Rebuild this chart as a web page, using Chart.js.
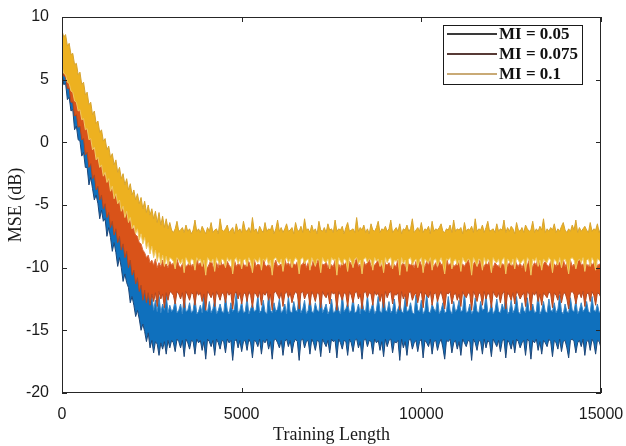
<!DOCTYPE html>
<html lang="en">
<head>
<meta charset="UTF-8">
<title>MSE vs Training Length</title>
<script src="https://cdn.jsdelivr.net/npm/chart.js"></script>
<style>
  html, body { margin: 0; padding: 0; background: #fff; }
  #wrap { width: 626px; height: 446px; }
</style>
</head>
<body>
<div id="wrap"><canvas id="mseChart" width="626" height="446"></canvas></div>
<script>
// MSE curves sampled every 50 iterations: upper and lower edge of each noisy band (dB)
const legendLabels = ['MI = 0.05', 'MI = 0.075', 'MI = 0.1'];
const xTicks = [0, 5000, 10000, 15000];
const yTicks = [-20, -15, -10, -5, 0, 5, 10];

const blueLo = [
  5.5, 4.6, 4.7, 3.4, 3.6, 2.5, 2.6, 1.0, 1.3, 0.2, 0.1,
  -1.1, -0.8, -2.0, -2.0, -3.4, -2.8, -3.7, -4.6, -4.2, -4.9,
  -6.1, -5.4, -6.3, -6.1, -7.5, -6.8, -7.6, -8.7, -8.0, -8.8,
  -9.9, -9.2, -10.0, -11.1, -10.5, -11.2, -11.6, -12.8, -12.3, -13.0,
  -13.9, -13.4, -14.1, -15.0, -14.5, -15.1, -15.9, -15.2, -16.4, -15.8,
  -16.8, -15.9, -16.1, -17.0, -16.0, -16.5, -15.9, -16.9, -15.8, -16.4,
  -15.8,-16.0,-16.7,-15.7,-15.9,-16.4,-15.8,-17.1,-15.7,-16.0,
  -16.5,-15.8,-15.9,-16.9,-15.7,-16.0,-15.8,-16.6,-15.9,-17.3,
  -15.7,-15.9,-16.3,-15.8,-17.0,-15.7,-16.0,-16.5,-15.8,-15.9,
  -16.8,-15.7,-16.0,-15.8,-17.4,-15.9,-15.7,-16.4,-15.8,-16.7,
  -15.9,-15.8,-16.6,-15.7,-16.0,-17.2,-15.8,-15.9,-16.3,-15.7,
  -16.9,-15.8,-16.0,-15.7,-16.5,-15.9,-17.3,-15.8,-15.7,-16.0,
  -16.4,-15.8,-17.0,-15.9,-15.7,-16.3,-15.8,-16.8,-16.0,-15.7,
  -15.9,-17.4,-15.8,-15.7,-16.4,-15.9,-15.8,-16.9,-15.7,-16.0,
  -16.6,-15.8,-15.9,-17.1,-15.7,-16.0,-16.3,-15.8,-16.8,-15.7,
  -15.9,-15.8,-17.2,-15.7,-16.0,-16.5,-15.8,-15.9,-17.0,-15.7,
  -16.0,-16.7,-15.8,-15.7,-16.4,-15.9,-17.3,-15.8,-15.7,-16.3,
  -15.8,-15.9,-16.9,-15.7,-16.0,-15.8,-16.6,-15.9,-17.1,-15.7,
  -16.3,-15.8,-15.7,-16.8,-15.9,-16.0,-15.8,-17.4,-15.7,-16.4,
  -15.9,-17.0,-15.8,-15.7,-16.5,-16.0,-15.8,-16.7,-15.9,-15.7,
  -17.2,-15.8,-16.0,-16.3,-15.7,-16.9,-15.9,-15.8,-16.6,-16.0,
  -15.7,-16.4,-17.3,-15.8,-15.9,-15.7,-16.8,-16.0,-15.8,-16.5,
  -15.9,-17.0,-15.7,-16.0,-16.3,-15.8,-15.9,-17.4,-15.7,-16.0,
  -16.6,-15.8,-15.9,-16.9,-15.7,-16.4,-15.8,-16.0,-17.1,-15.7,
  -16.0,-16.3,-15.8,-16.7,-15.9,-15.7,-17.2,-15.8,-16.0,-16.5,
  -15.8,-16.8,-15.7,-15.9,-16.4,-16.0,-15.8,-17.0,-15.7,-15.9,
  -17.3,-15.8,-16.0,-15.7,-16.6,-15.9,-16.9,-15.8,-16.0,-16.3,
  -15.7,-15.9,-17.1,-15.8,-16.0,-16.5,-15.7,-16.7,-15.9,-15.8,
  -16.4,-17.2,-15.8,-15.7,-15.9,-16.8,-16.0,-15.8,-16.3,-15.7,
  -17.0,-15.9,-15.8,-16.6,-15.7,-16.0,-16.9,-15.8,-15.9,-16.4];

const blueHi = [
  8.5, 7.7, 7.6, 6.7, 6.6, 5.7, 5.5, 4.5, 4.4, 3.3, 3.1,
  2.2, 2.2, 1.1, 1.1, 0.1, 0.3, -0.8, -0.6, -1.7, -1.5,
  -2.5, -2.1, -3.2, -2.9, -3.9, -3.6, -4.7, -4.3, -5.5, -5.1,
  -6.3, -5.9, -7.1, -6.7, -7.9, -7.5, -8.8, -8.2, -9.7, -9.2,
  -10.5, -9.9, -11.2, -10.8, -11.9, -11.3, -12.4, -11.8, -12.9, -12.2,
  -13.4, -12.6, -13.5, -12.3, -13.6, -12.9, -13.4, -12.1, -13.6, -13.0,
  -13.5,-13.3,-12.6,-13.6,-13.4,-12.9,-13.7,-12.2,-13.5,-13.4,
  -12.8,-13.6,-13.4,-12.4,-13.7,-13.5,-13.0,-13.6,-12.1,-13.4,
  -13.5,-12.7,-13.6,-13.3,-12.5,-13.7,-13.4,-12.9,-13.5,-13.6,
  -12.3,-13.4,-13.7,-12.8,-13.5,-13.3,-12.0,-13.6,-13.4,-12.7,
  -13.6,-13.5,-12.4,-13.7,-13.3,-12.9,-13.5,-13.4,-12.2,-13.6,
  -13.4,-12.6,-13.5,-13.7,-12.1,-13.4,-13.6,-12.8,-13.5,-13.3,
  -12.5,-13.6,-13.4,-12.9,-13.7,-12.3,-13.5,-13.6,-12.7,-13.4,
  -13.5,-12.0,-13.6,-13.3,-12.6,-13.7,-13.4,-12.4,-13.5,-13.6,
  -12.8,-13.4,-13.5,-12.2,-13.6,-13.3,-12.9,-13.7,-13.4,-12.5,
  -13.6,-13.5,-12.7,-13.4,-13.7,-12.1,-13.5,-13.3,-12.8,-13.6,
  -13.4,-12.4,-13.6,-13.5,-12.9,-13.7,-12.6,-13.4,-13.5,-12.2,
  -13.6,-13.3,-12.8,-13.7,-13.4,-12.3,-13.5,-13.6,-12.0,-13.4,
  -13.5,-12.7,-13.6,-13.4,-12.5,-13.7,-13.3,-12.9,-13.5,-13.6,
  -12.4,-13.5,-13.4,-12.8,-13.6,-13.7,-12.2,-13.4,-13.5,-12.6,
  -13.7,-13.4,-12.1,-13.5,-13.6,-12.9,-13.3,-13.5,-12.5,-13.7,
  -13.4,-12.8,-13.6,-13.5,-12.3,-13.4,-13.7,-12.7,-13.5,-13.3,
  -12.6,-13.5,-13.4,-12.0,-13.6,-13.5,-12.9,-13.7,-13.4,-12.4,
  -13.5,-13.6,-12.7,-13.4,-13.3,-12.2,-13.6,-13.5,-12.8,-13.7,
  -13.4,-12.5,-13.5,-13.6,-12.9,-13.4,-12.1,-13.7,-13.5,-12.6,
  -13.6,-13.3,-12.3,-13.5,-13.7,-12.8,-13.4,-13.6,-12.4,-13.5,
  -13.4,-12.9,-13.6,-13.5,-12.0,-13.7,-13.4,-12.7,-13.5,-13.6,
  -12.5,-13.4,-13.5,-12.8,-13.6,-13.3,-12.2,-13.5,-13.7,-12.9,
  -13.5,-13.6,-12.4,-13.4,-13.5,-12.6,-13.7,-13.4,-12.8,-13.5,
  -13.3,-12.7,-13.5,-13.6,-12.3,-13.4,-13.5,-12.9,-13.6,-13.4];

const orangeLo = [
  6.0, 5.3, 5.2, 4.3, 4.3, 3.2, 3.2, 2.1, 2.2, 1.2, 1.3,
  0.2, 0.3, -1.0, -0.8, -2.0, -1.7, -2.9, -2.6, -3.8, -3.5,
  -4.6, -4.2, -5.3, -4.9, -6.0, -5.6, -6.8, -6.3, -7.4, -6.9,
  -8.0, -7.5, -8.6, -8.1, -9.2, -8.7, -10.0, -9.4, -10.6, -10.2,
  -11.3, -10.8, -11.9, -11.4, -12.6, -11.8, -12.8, -12.0, -13.0, -12.1,
  -12.7, -12.0, -13.1, -11.9, -12.5, -12.1, -13.2, -12.0, -12.6, -11.9,
  -12.0,-12.2,-12.9,-11.9,-12.1,-12.5,-12.0,-13.2,-11.9,-12.2,
  -12.6,-12.0,-12.1,-13.0,-11.9,-12.2,-12.0,-12.7,-12.1,-13.4,
  -11.9,-12.1,-12.4,-12.0,-13.1,-11.9,-12.2,-12.6,-12.0,-12.1,
  -12.8,-11.9,-12.2,-12.0,-13.3,-12.1,-11.9,-12.5,-12.0,-12.9,
  -12.1,-12.0,-12.7,-11.9,-12.2,-13.2,-12.0,-12.1,-12.4,-11.9,
  -13.0,-12.0,-12.2,-11.9,-12.6,-12.1,-13.4,-12.0,-11.9,-12.2,
  -12.5,-12.0,-13.1,-12.1,-11.9,-12.4,-12.0,-12.8,-12.2,-11.9,
  -12.1,-13.3,-12.0,-11.9,-12.5,-12.1,-12.0,-13.0,-11.9,-12.2,
  -12.7,-12.0,-12.1,-13.2,-11.9,-12.2,-12.4,-12.0,-12.9,-11.9,
  -12.1,-12.0,-13.4,-11.9,-12.2,-12.6,-12.0,-12.1,-13.1,-11.9,
  -12.2,-12.8,-12.0,-11.9,-12.5,-12.1,-13.3,-12.0,-11.9,-12.4,
  -12.0,-12.1,-13.0,-11.9,-12.2,-12.0,-12.7,-12.1,-13.2,-11.9,
  -12.4,-12.0,-11.9,-12.9,-12.1,-12.2,-12.0,-13.4,-11.9,-12.5,
  -12.1,-13.1,-12.0,-11.9,-12.6,-12.2,-12.0,-12.8,-12.1,-11.9,
  -13.2,-12.0,-12.2,-12.4,-11.9,-13.0,-12.1,-12.0,-12.7,-12.2,
  -11.9,-12.5,-13.3,-12.0,-12.1,-11.9,-12.9,-12.2,-12.0,-12.6,
  -12.1,-13.1,-11.9,-12.2,-12.4,-12.0,-12.1,-13.4,-11.9,-12.2,
  -12.7,-12.0,-12.1,-13.0,-11.9,-12.5,-12.0,-12.2,-13.2,-11.9,
  -12.2,-12.4,-12.0,-12.8,-12.1,-11.9,-13.3,-12.0,-12.2,-12.6,
  -12.0,-12.9,-11.9,-12.1,-12.5,-12.2,-12.0,-13.1,-11.9,-12.1,
  -13.4,-12.0,-12.2,-11.9,-12.7,-12.1,-13.0,-12.0,-12.2,-12.4,
  -11.9,-12.1,-13.2,-12.0,-12.2,-12.6,-11.9,-12.8,-12.1,-12.0,
  -12.5,-13.3,-12.0,-11.9,-12.1,-12.9,-12.2,-12.0,-12.4,-11.9,
  -13.1,-12.1,-12.0,-12.7,-11.9,-12.2,-13.0,-12.0,-12.1,-12.4];

const orangeHi = [
  8.0, 7.7, 7.6, 7.0, 6.9, 6.3, 6.1, 5.5, 5.3, 4.7, 4.5,
  3.9, 3.7, 3.1, 2.9, 2.3, 2.1, 1.5, 1.3, 0.7, 0.5,
  -0.1, -0.3, -0.9, -1.1, -1.7, -1.9, -2.5, -2.7, -3.3, -3.4,
  -3.3, -3.5, -4.1, -4.3, -4.9, -5.1, -5.8, -6.0, -6.7, -6.9,
  -7.4, -7.5, -8.0, -8.1, -8.6, -8.8, -9.2, -9.0, -9.6, -9.4,
  -9.8, -9.3, -10.0, -9.6, -9.9, -9.4, -9.8, -9.7, -10.0, -9.5,
  -9.8,-9.6,-9.9,-9.3,-9.8,-10.0,-9.7,-9.5,-9.9,-9.8,
  -9.4,-9.9,-9.7,-10.0,-9.2,-9.8,-9.6,-9.9,-9.5,-9.8,
  -10.0,-9.7,-9.3,-9.9,-9.8,-9.6,-10.0,-9.1,-9.8,-9.7,
  -9.9,-9.5,-9.8,-10.0,-9.6,-9.4,-9.9,-9.7,-9.8,-9.2,
  -9.7,-9.9,-9.6,-9.5,-10.0,-9.8,-9.3,-9.9,-9.7,-9.8,
  -9.6,-9.1,-9.8,-9.9,-9.7,-10.0,-9.5,-9.8,-9.4,-9.9,
  -9.8,-9.7,-10.0,-9.3,-9.8,-9.6,-9.9,-9.2,-9.7,-9.8,
  -9.5,-9.9,-9.8,-9.7,-9.4,-10.0,-9.6,-9.8,-9.9,-9.3,
  -9.8,-9.6,-9.1,-9.9,-9.7,-9.8,-9.5,-10.0,-9.6,-9.8,
  -9.9,-9.4,-9.8,-9.7,-10.0,-9.3,-9.8,-9.6,-9.9,-9.5,
  -9.7,-9.8,-9.6,-9.2,-9.9,-9.7,-10.0,-9.5,-9.8,-9.6,
  -9.3,-9.9,-9.7,-9.8,-9.6,-9.4,-9.9,-9.8,-9.1,-9.7,
  -9.8,-9.6,-10.0,-9.5,-9.8,-9.9,-9.3,-9.7,-9.8,-9.6,
  -9.9,-9.2,-9.7,-9.8,-9.6,-10.0,-9.5,-9.9,-9.4,-9.8,
  -9.7,-9.9,-9.5,-9.8,-9.3,-9.7,-9.9,-9.6,-10.0,-9.4,
  -9.8,-9.6,-9.9,-9.1,-9.8,-9.7,-9.5,-9.9,-9.8,-9.6,
  -9.4,-9.8,-9.7,-9.9,-9.6,-9.3,-9.8,-10.0,-9.7,-9.5,
  -9.9,-9.7,-9.2,-9.8,-9.9,-9.6,-9.8,-9.4,-9.7,-10.0,
  -9.6,-9.8,-9.9,-9.5,-9.7,-9.8,-9.2,-9.9,-9.6,-9.8,
  -9.8,-9.3,-9.7,-9.9,-9.6,-10.0,-9.7,-9.5,-9.8,-9.4,
  -9.7,-9.9,-9.6,-9.8,-9.1,-9.8,-9.9,-9.7,-9.5,-9.8,
  -9.9,-9.5,-9.8,-9.7,-9.9,-9.4,-9.6,-9.8,-9.3,-9.9,
  -9.6,-9.8,-9.4,-9.9,-9.7,-9.8,-9.5,-9.2,-9.8,-9.7,
  -9.8,-9.7,-9.9,-9.5,-9.8,-9.6,-9.3,-9.9,-9.7,-9.8];

const yellowLo = [
  6.0, 5.5, 5.4, 4.8, 4.7, 4.1, 4.0, 3.3, 3.2, 2.5, 2.6,
  1.8, 1.9, 1.0, 1.1, 0.2, 0.3, -0.6, -0.4, -1.4, -1.2,
  -2.0, -1.8, -2.7, -2.4, -3.2, -2.9, -3.9, -3.5, -4.5, -4.1,
  -4.9, -4.6, -5.5, -5.1, -6.0, -5.5, -6.4, -6.0, -6.9, -6.6,
  -7.3, -6.9, -7.8, -7.3, -8.1, -7.6, -8.5, -8.0, -8.9, -8.3,
  -9.2, -8.6, -9.5, -8.8, -9.7, -9.0, -9.9, -9.1, -9.8, -9.2,
  -9.3,-9.5,-10.1,-9.2,-9.4,-9.7,-9.3,-10.4,-9.2,-9.5,
  -9.8,-9.3,-9.4,-10.2,-9.2,-9.5,-9.3,-9.9,-9.4,-10.6,
  -9.2,-9.4,-9.6,-9.3,-10.3,-9.2,-9.5,-9.8,-9.3,-9.4,
  -10.0,-9.2,-9.5,-9.3,-10.5,-9.4,-9.2,-9.7,-9.3,-10.1,
  -9.4,-9.3,-9.9,-9.2,-9.5,-10.4,-9.3,-9.4,-9.6,-9.2,
  -10.2,-9.3,-9.5,-9.2,-9.8,-9.4,-10.6,-9.3,-9.2,-9.5,
  -9.7,-9.3,-10.3,-9.4,-9.2,-9.6,-9.3,-10.0,-9.5,-9.2,
  -9.4,-10.5,-9.3,-9.2,-9.7,-9.4,-9.3,-10.2,-9.2,-9.5,
  -9.9,-9.3,-9.4,-10.4,-9.2,-9.5,-9.6,-9.3,-10.1,-9.2,
  -9.4,-9.3,-10.6,-9.2,-9.5,-9.8,-9.3,-9.4,-10.3,-9.2,
  -9.5,-10.0,-9.3,-9.2,-9.7,-9.4,-10.5,-9.3,-9.2,-9.6,
  -9.3,-9.4,-10.2,-9.2,-9.5,-9.3,-9.9,-9.4,-10.4,-9.2,
  -9.6,-9.3,-9.2,-10.1,-9.4,-9.5,-9.3,-10.6,-9.2,-9.7,
  -9.4,-10.3,-9.3,-9.2,-9.8,-9.5,-9.3,-10.0,-9.4,-9.2,
  -10.4,-9.3,-9.5,-9.6,-9.2,-10.2,-9.4,-9.3,-9.9,-9.5,
  -9.2,-9.7,-10.5,-9.3,-9.4,-9.2,-10.1,-9.5,-9.3,-9.8,
  -9.4,-10.3,-9.2,-9.5,-9.6,-9.3,-9.4,-10.6,-9.2,-9.5,
  -9.9,-9.3,-9.4,-10.2,-9.2,-9.7,-9.3,-9.5,-10.4,-9.2,
  -9.5,-9.6,-9.3,-10.0,-9.4,-9.2,-10.5,-9.3,-9.5,-9.8,
  -9.3,-10.1,-9.2,-9.4,-9.7,-9.5,-9.3,-10.3,-9.2,-9.4,
  -10.6,-9.3,-9.5,-9.2,-9.9,-9.4,-10.2,-9.3,-9.5,-9.6,
  -9.2,-9.4,-10.4,-9.3,-9.5,-9.8,-9.2,-10.0,-9.4,-9.3,
  -9.7,-10.5,-9.3,-9.2,-9.4,-10.1,-9.5,-9.3,-9.6,-9.2,
  -10.3,-9.4,-9.3,-9.9,-9.2,-9.5,-10.2,-9.3,-9.4,-9.6];

const yellowHi = [
  8.9, 8.4, 8.6, 7.7, 7.9, 7.0, 7.1, 6.2, 6.3, 5.4, 5.6,
  4.6, 4.8, 3.8, 4.0, 3.0, 3.2, 2.2, 2.5, 1.5, 1.7,
  0.8, 1.0, 0.1, 0.3, -0.6, -0.3, -1.2, -0.9, -1.8, -1.4,
  -2.4, -2.0, -2.9, -2.5, -3.4, -2.9, -3.8, -3.3, -4.2, -3.8,
  -4.6, -4.1, -4.9, -4.4, -5.3, -4.7, -5.6, -5.0, -5.8, -5.3,
  -6.1, -5.5, -6.4, -5.6, -6.6, -5.9, -6.8, -6.1, -6.9, -6.4,
  -7.0,-7.2,-6.9,-6.3,-7.1,-7.0,-6.8,-7.2,-6.6,-7.1,
  -6.9,-7.3,-7.0,-6.2,-7.1,-6.9,-7.2,-6.7,-7.0,-7.3,
  -6.8,-7.1,-6.4,-7.2,-7.0,-6.9,-7.3,-6.1,-7.0,-7.1,
  -6.9,-6.6,-7.2,-7.0,-6.8,-7.3,-6.5,-7.1,-6.9,-7.2,
  -6.3,-7.0,-7.1,-6.8,-7.2,-6.0,-7.1,-6.9,-7.3,-6.7,
  -7.0,-7.2,-6.4,-7.1,-6.9,-7.0,-6.6,-7.3,-6.9,-6.2,
  -7.1,-6.8,-7.2,-6.9,-6.5,-7.1,-7.0,-6.8,-7.3,-6.4,
  -7.0,-7.1,-6.7,-7.2,-6.1,-7.0,-6.9,-7.2,-6.6,-7.1,
  -6.9,-7.3,-6.3,-7.0,-7.1,-6.8,-7.2,-6.5,-7.0,-6.9,
  -7.2,-6.2,-7.1,-6.9,-7.0,-6.7,-7.3,-6.8,-6.4,-7.1,
  -7.0,-6.9,-7.2,-6.0,-7.1,-6.8,-7.0,-6.6,-7.2,-6.9,
  -7.3,-6.5,-7.0,-7.1,-6.8,-6.3,-7.2,-6.9,-7.0,-6.7,
  -7.1,-6.9,-6.2,-7.2,-7.0,-6.8,-7.1,-6.5,-7.3,-6.9,
  -7.0,-6.6,-7.1,-6.9,-6.1,-7.2,-7.0,-6.8,-7.1,-6.4,
  -7.2,-6.9,-7.0,-6.7,-7.3,-6.3,-7.1,-6.9,-7.0,-6.8,
  -6.5,-7.1,-7.2,-6.9,-7.0,-6.6,-7.2,-6.2,-7.1,-6.9,
  -7.0,-6.8,-7.3,-6.4,-7.1,-6.9,-7.0,-6.7,-7.2,-6.1,
  -7.1,-6.9,-7.0,-6.6,-7.2,-6.8,-6.3,-7.1,-7.0,-6.9,
  -7.2,-6.5,-7.1,-6.9,-7.0,-6.2,-7.2,-6.8,-7.1,-6.7,
  -6.9,-7.3,-6.4,-7.0,-7.1,-6.8,-7.2,-6.6,-6.9,-7.1,
  -7.0,-6.3,-7.2,-6.9,-7.1,-6.7,-7.0,-6.1,-7.2,-6.9,
  -7.1,-6.8,-7.0,-6.5,-7.2,-6.9,-7.1,-6.7,-6.4,-7.0,
  -7.2,-6.9,-7.1,-6.6,-7.0,-6.2,-7.2,-6.8,-7.1,-6.9,
  -6.7,-7.0,-7.2,-6.4,-7.1,-6.9,-7.0,-6.5,-7.2,-6.8];

// training length of each sample (one every 50 iterations)
const trainLen = blueLo.map((_, i) => i * 50);
const pts = arr => arr.map((v, i) => ({ x: trainLen[i], y: v }));

function band(lo, hi, fill, edgeLo, edgeHi, order) {
  return [
    { data: pts(lo), borderColor: edgeLo, borderWidth: 1, fill: false, order: order },
    { data: pts(hi), borderColor: edgeHi, borderWidth: 1, backgroundColor: fill, fill: '-1', order: order }
  ];
}

const datasets = [
  ...band(blueLo, blueHi, '#0f70bd', '#1d4678', '#3a86c6', 3),
  ...band(orangeLo, orangeHi, '#d95319', '#b5471e', '#d96a38', 2),
  ...band(yellowLo, yellowHi, '#edb120', '#efc865', '#d6a32f', 1)
];

const legendColors = ['#3a3a3a', '#573a36', '#c9aa76'];
const axisColor = '#262626';

// box, inward ticks on all four sides, legend box (MATLAB look)
const framePlugin = {
  id: 'frame',
  afterDatasetsDraw(chart) {
    const { ctx, chartArea: a, scales: { x, y } } = chart;
    ctx.save();
    ctx.strokeStyle = axisColor;
    ctx.lineWidth = 1;
    ctx.strokeRect(a.left + 0.5, a.top + 0.5, a.right - a.left - 1, a.bottom - a.top - 1);
    ctx.beginPath();
    xTicks.forEach(v => {
      const px = Math.round(x.getPixelForValue(v)) + 0.5;
      ctx.moveTo(px, a.bottom); ctx.lineTo(px, a.bottom - 5);
      ctx.moveTo(px, a.top); ctx.lineTo(px, a.top + 5);
    });
    yTicks.forEach(v => {
      const py = Math.round(y.getPixelForValue(v)) + 0.5;
      ctx.moveTo(a.left, py); ctx.lineTo(a.left + 5, py);
      ctx.moveTo(a.right, py); ctx.lineTo(a.right - 5, py);
    });
    ctx.stroke();

    // legend
    const bx = a.right - 158, by = a.top + 8, bw = 139, bh = 59;
    ctx.fillStyle = '#fff';
    ctx.fillRect(bx, by, bw, bh);
    ctx.strokeStyle = '#1a1a1a';
    ctx.strokeRect(bx + 0.5, by + 0.5, bw, bh);
    ctx.font = 'bold 17px "Liberation Serif", serif';
    ctx.textBaseline = 'middle';
    legendLabels.forEach((lab, i) => {
      const ly = by + 9 + i * 20;
      ctx.strokeStyle = legendColors[i];
      ctx.lineWidth = 2;
      ctx.beginPath();
      ctx.moveTo(bx + 4, ly); ctx.lineTo(bx + 54, ly);
      ctx.stroke();
      ctx.fillStyle = '#111';
      ctx.fillText(lab, bx + 56, ly + 1);
    });
    ctx.restore();
  }
};

new Chart(document.getElementById('mseChart'), {
  type: 'line',
  data: { datasets: datasets },
  plugins: [framePlugin],
  options: {
    responsive: false,
    animation: false,
    layout: { padding: { top: 17, right: 25, left: 0, bottom: 0 } },
    elements: { point: { radius: 0 }, line: { tension: 0 } },
    plugins: { legend: { display: false }, tooltip: { enabled: false } },
    scales: {
      x: {
        type: 'linear', min: 0, max: 15000,
        afterFit: s => { s.height = 53; s.paddingLeft = 0; s.paddingRight = 0; },
        afterBuildTicks: s => { s.ticks = xTicks.map(v => ({ value: v })); },
        grid: { display: false },
        border: { display: false },
        ticks: { color: '#1a1a1a', padding: 4, maxRotation: 0, callback: v => String(v),
          font: { family: '"Liberation Sans", Arial, sans-serif', size: 16 } },
        title: { display: true, text: 'Training Length', color: '#1a1a1a', padding: { top: 0, bottom: 0 },
          font: { family: '"Liberation Serif", serif', size: 18 } }
      },
      y: {
        min: -20, max: 10,
        afterFit: s => { s.width = 62; },
        afterBuildTicks: s => { s.ticks = yTicks.map(v => ({ value: v })); },
        grid: { display: false },
        border: { display: false },
        ticks: { color: '#1a1a1a', padding: 5, callback: v => String(v),
          font: { family: '"Liberation Sans", Arial, sans-serif', size: 16 } },
        title: { display: true, text: 'MSE (dB)', color: '#1a1a1a', padding: { top: 5, bottom: 0 },
          font: { family: '"Liberation Serif", serif', size: 18 } }
      }
    }
  }
});
</script>
</body>
</html>
